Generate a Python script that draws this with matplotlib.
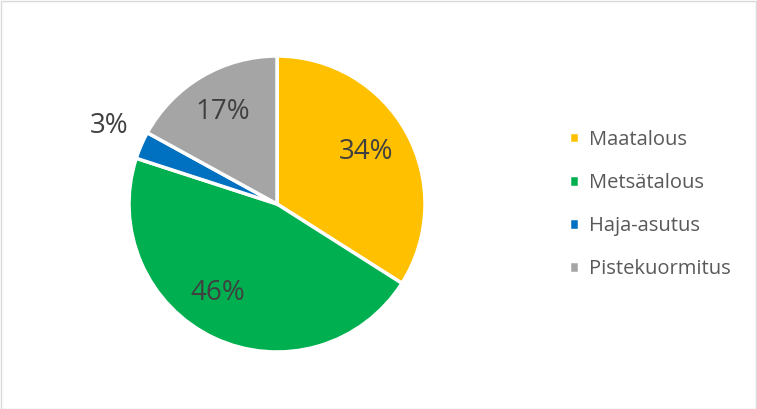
import matplotlib.pyplot as plt
from matplotlib.patches import Rectangle
import numpy as np

# Kuormituslähteet
categories = ["Maatalous", "Metsätalous", "Haja-asutus", "Pistekuormitus"]
shares = [34, 46, 3, 17]
colors = ["#FFC000", "#00B050", "#0070C0", "#A5A5A5"]

plt.rcParams['font.family'] = ['Open Sans', 'DejaVu Sans']

fig = plt.figure(figsize=(7.57, 4.09), dpi=100)
W, H = 757, 409
cx, cy, r = 277, 204, 148
ax = fig.add_axes([(cx - r) / W, (H - cy - r) / H, 2 * r / W, 2 * r / H])

wedges, texts, autotexts = ax.pie(
    shares, colors=colors, startangle=90, counterclock=False,
    autopct=lambda p: f"{p:.0f}%", pctdistance=0.71,
    wedgeprops=dict(edgecolor="white", linewidth=2.5),
    textprops=dict(color="#404040", fontsize=20))
ax.set_xlim(-1, 1)
ax.set_ylim(-1, 1)
ax.set_aspect("equal")

# nimiöiden sijainnit (kulmasiirto asteina, etäisyys säteestä)
label_shift = [1.5, -8.5, -1.5, 0]
label_dist = [0.70, 0.72, 1.25, 0.72]
for w, t, s, d in zip(wedges, autotexts, label_shift, label_dist):
    ang = np.deg2rad((w.theta1 + w.theta2) / 2 + s)
    t.set_position((d * np.cos(ang), d * np.sin(ang)))

leg = fig.legend(wedges, categories, loc="center left",
                 bbox_to_anchor=(0.728, 0.5), frameon=False,
                 fontsize=14.5, labelcolor="#595959",
                 handlelength=0.5, handleheight=0.5, handletextpad=0.5,
                 labelspacing=1.15)

fig.patches.append(Rectangle((0.5 / W, 0.5 / H), 1 - 1.5 / W, 1 - 1.5 / H,
                             transform=fig.transFigure, fill=False,
                             edgecolor="#D9D9D9", linewidth=1))

fig.savefig("out.png", dpi=100)
